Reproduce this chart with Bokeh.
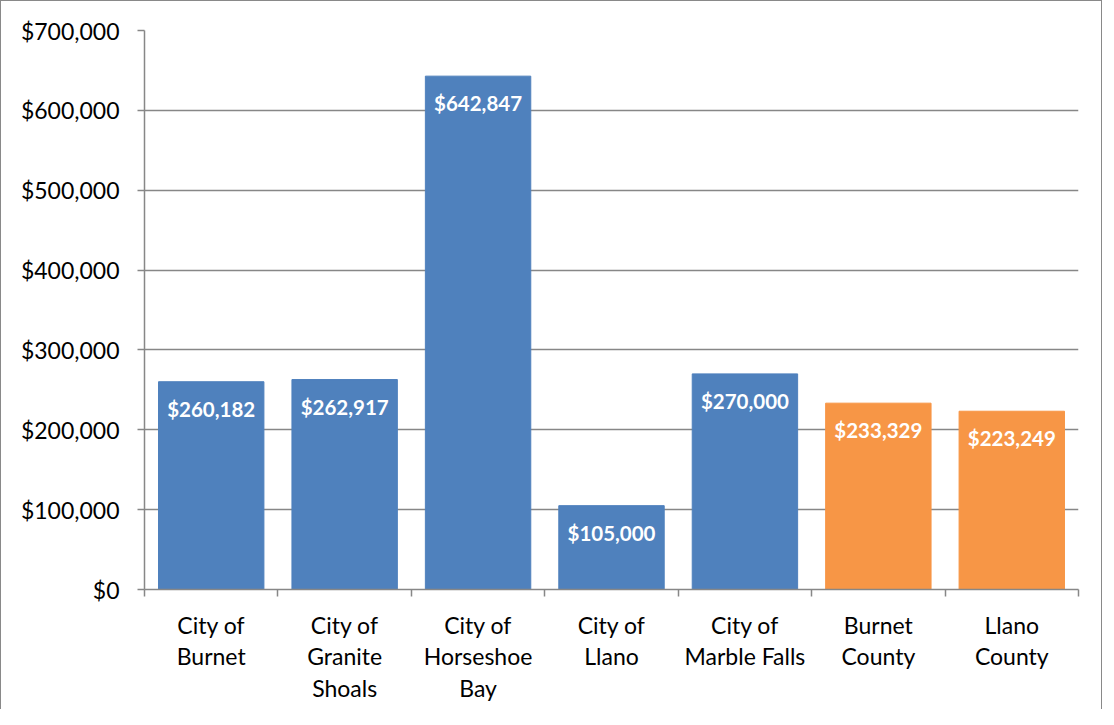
from bokeh.plotting import figure
from bokeh.models import Range1d, FixedTicker, NumeralTickFormatter, ColumnDataSource
from bokeh.core.properties import value
from bokeh.embed import file_html
from bokeh.resources import INLINE

categories = ["City of\nBurnet", "City of\nGranite\nShoals", "City of\nHorseshoe\nBay", "City of\nLlano",
              "City of\nMarble Falls", "Burnet\nCounty", "Llano\nCounty"]
values = [260182, 262917, 642847, 105000, 270000, 233329, 223249]
labels = ["$260,182", "$262,917", "$642,847", "$105,000", "$270,000", "$233,329", "$223,249"]
colors = ["#4F81BD"] * 5 + ["#F79646"] * 2

xs = [i + 0.5 for i in range(len(categories))]
src = ColumnDataSource(dict(x=xs, top=values, color=colors, label=labels))

FONT = "Lato"
GRID = "#878787"

p = figure(width=1102, height=709, output_backend="svg", toolbar_location=None,
           x_range=Range1d(0, 7), y_range=Range1d(0, 700000),
           min_border_left=143, min_border_right=25, min_border_top=29, min_border_bottom=121)
p.styles = {"border-left": "1px solid #898989", "border-top": "1px solid #898989",
            "border-right": "1px solid #898989", "box-sizing": "border-box"}
p.outline_line_color = None
p.background_fill_color = "white"
p.border_fill_color = "white"

p.vbar(x="x", top="top", bottom=0, width=0.79, color="color", source=src)
p.text(x="x", y="top", text="label", source=src, text_color="white",
       text_font=value(FONT), text_font_style="bold", text_font_size="20.5px",
       text_align="center", text_baseline="middle", y_offset=27)

# y axis
p.yaxis.ticker = FixedTicker(ticks=[i * 100000 for i in range(8)])
p.yaxis.formatter = NumeralTickFormatter(format="$0,0")
p.yaxis.major_label_text_font = FONT
p.yaxis.major_label_text_font_size = "23px"
p.yaxis.major_label_text_color = "#000000"
p.yaxis.axis_line_color = GRID
p.yaxis.axis_line_width = 1.5
p.yaxis.major_tick_line_color = GRID
p.yaxis.major_tick_line_width = 1.5
p.yaxis.major_tick_out = 7
p.yaxis.major_tick_in = 0
p.yaxis.minor_tick_line_color = None
p.yaxis.major_label_standoff = 18

# x axis
p.xaxis.ticker = FixedTicker(ticks=xs, minor_ticks=list(range(8)))
p.xaxis.major_label_overrides = {x: c for x, c in zip(xs, categories)}
p.xaxis.major_label_text_font = FONT
p.xaxis.major_label_text_font_size = "23px"
p.xaxis.major_label_text_color = "#000000"
p.xaxis.major_label_text_line_height = 1.14
p.xaxis.axis_line_color = GRID
p.xaxis.axis_line_width = 1.5
p.xaxis.major_tick_line_color = None
p.xaxis.minor_tick_line_color = GRID
p.xaxis.minor_tick_line_width = 1.5
p.xaxis.minor_tick_out = 7
p.xaxis.minor_tick_in = 0
p.xaxis.major_label_standoff = 14

p.xgrid.grid_line_color = None
p.ygrid.grid_line_color = GRID
p.ygrid.grid_line_width = 1.5

open("out.html", "w").write(file_html(p, INLINE))
